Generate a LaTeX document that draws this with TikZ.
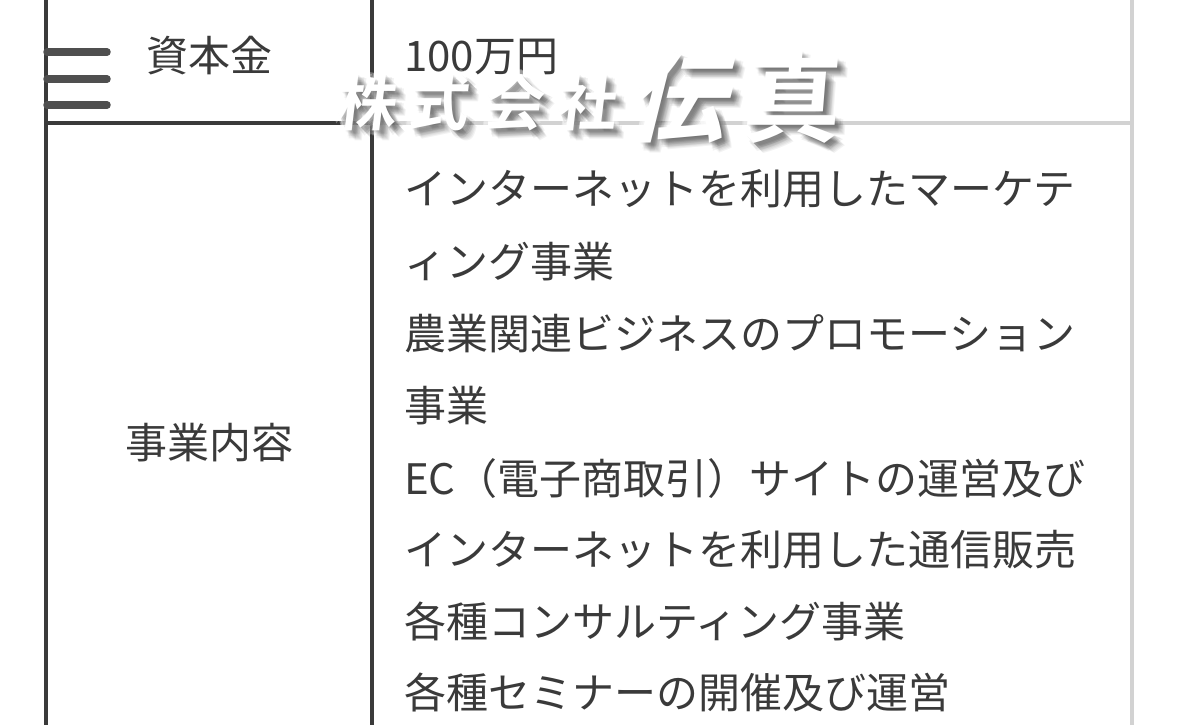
\documentclass[tikz,border=0pt]{standalone}
\usepackage{fontspec}
\setmainfont{Noto Sans CJK JP}
\newfontfamily\logofont{Noto Sans CJK JP Bold}
\definecolor{ink}{HTML}{3A3A3A}
\definecolor{rulegray}{HTML}{D2D2D2}
\definecolor{burger}{HTML}{4F4F4F}
\tikzset{
  body/.style={anchor=base west,inner sep=0pt,text=ink,font=\fontsize{42}{42}\selectfont},
  head/.style={anchor=base,inner sep=0pt,text=ink,font=\fontsize{42}{42}\selectfont},
  darkrule/.style={draw=ink,line width=3.6pt},
  lightrule/.style={draw=rulegray,line width=3.6pt},
  burgerbar/.style={draw=burger,line width=7.5pt,line cap=round},
}
% #1 colour, #2 opacity, #3 dx, #4 dy
\newcommand{\logoall}[4]{%
  \foreach \cx/\cy/\csize/\cslant/\cchar in {
    368/103/60/0.12/株, 440/103/60/0.12/式, 515/103/60/0.12/会, 588/103/60/0.12/社,
    685/97/98/0.25/伝, 793/97/98/0.08/真}{
    \node[anchor=center,inner sep=0pt,text=#1,text opacity=#2,xslant=\cslant,transform shape,
      font=\logofont\fontsize{\csize}{\csize}\selectfont] at (\cx+#3,\cy+#4) {\cchar};
  }%
}
\begin{document}
\begin{tikzpicture}[x=1pt,y=-1pt]
\useasboundingbox (0,0) rectangle (1179,725);
\fill[white] (0,0) rectangle (1179,725);
% table rules
\draw[darkrule] (46,0) -- (46,725);
\draw[darkrule] (372,0) -- (372,725);
\draw[darkrule] (46,123) -- (372,123);
\draw[lightrule] (372,123) -- (1132,123);
\draw[lightrule] (1132,0) -- (1132,725);
% labels
\node[head] (capital) at (209,72) {資本金};
\node[head] (business) at (209,458) {事業内容};
\node[body] (amount) at (404,72) {100万円};
\node[body] (l1) at (404,204) {インターネットを利用したマーケテ};
\node[body] (l2) at (404,277) {ィング事業};
\node[body] (l3) at (404,349) {農業関連ビジネスのプロモーション};
\node[body] (l4) at (404,421) {事業};
\node[body] (l5) at (404,494) {EC（電子商取引）サイトの運営及び};
\node[body] (l6) at (404,565) {インターネットを利用した通信販売};
\node[body] (l7) at (404,637) {各種コンサルティング事業};
\node[body] (l8) at (404,708) {各種セミナーの開催及び運営};
% menu icon
\draw[burgerbar] (47,52) -- (107,52);
\draw[burgerbar] (47,79) -- (107,79);
\draw[burgerbar] (47,105) -- (107,105);
% logo: white halo, soft shadow, white face
\foreach \dx/\dy in {-4/-4,4/-4,-4/4,4/4,0/-5,0/5,-5/0,5/0}{
  \logoall{white}{0.3}{\dx}{\dy}
}
\foreach \dx/\dy in {1/1,2/2,3/3,4/4,5/5,6/6,7/7,8/8,9/9,10/10,4/8,8/4,3/6,6/3}{
  \logoall{black}{0.05}{\dx}{\dy}
}
\logoall{white}{1}{0}{0}
\end{tikzpicture}
\end{document}
